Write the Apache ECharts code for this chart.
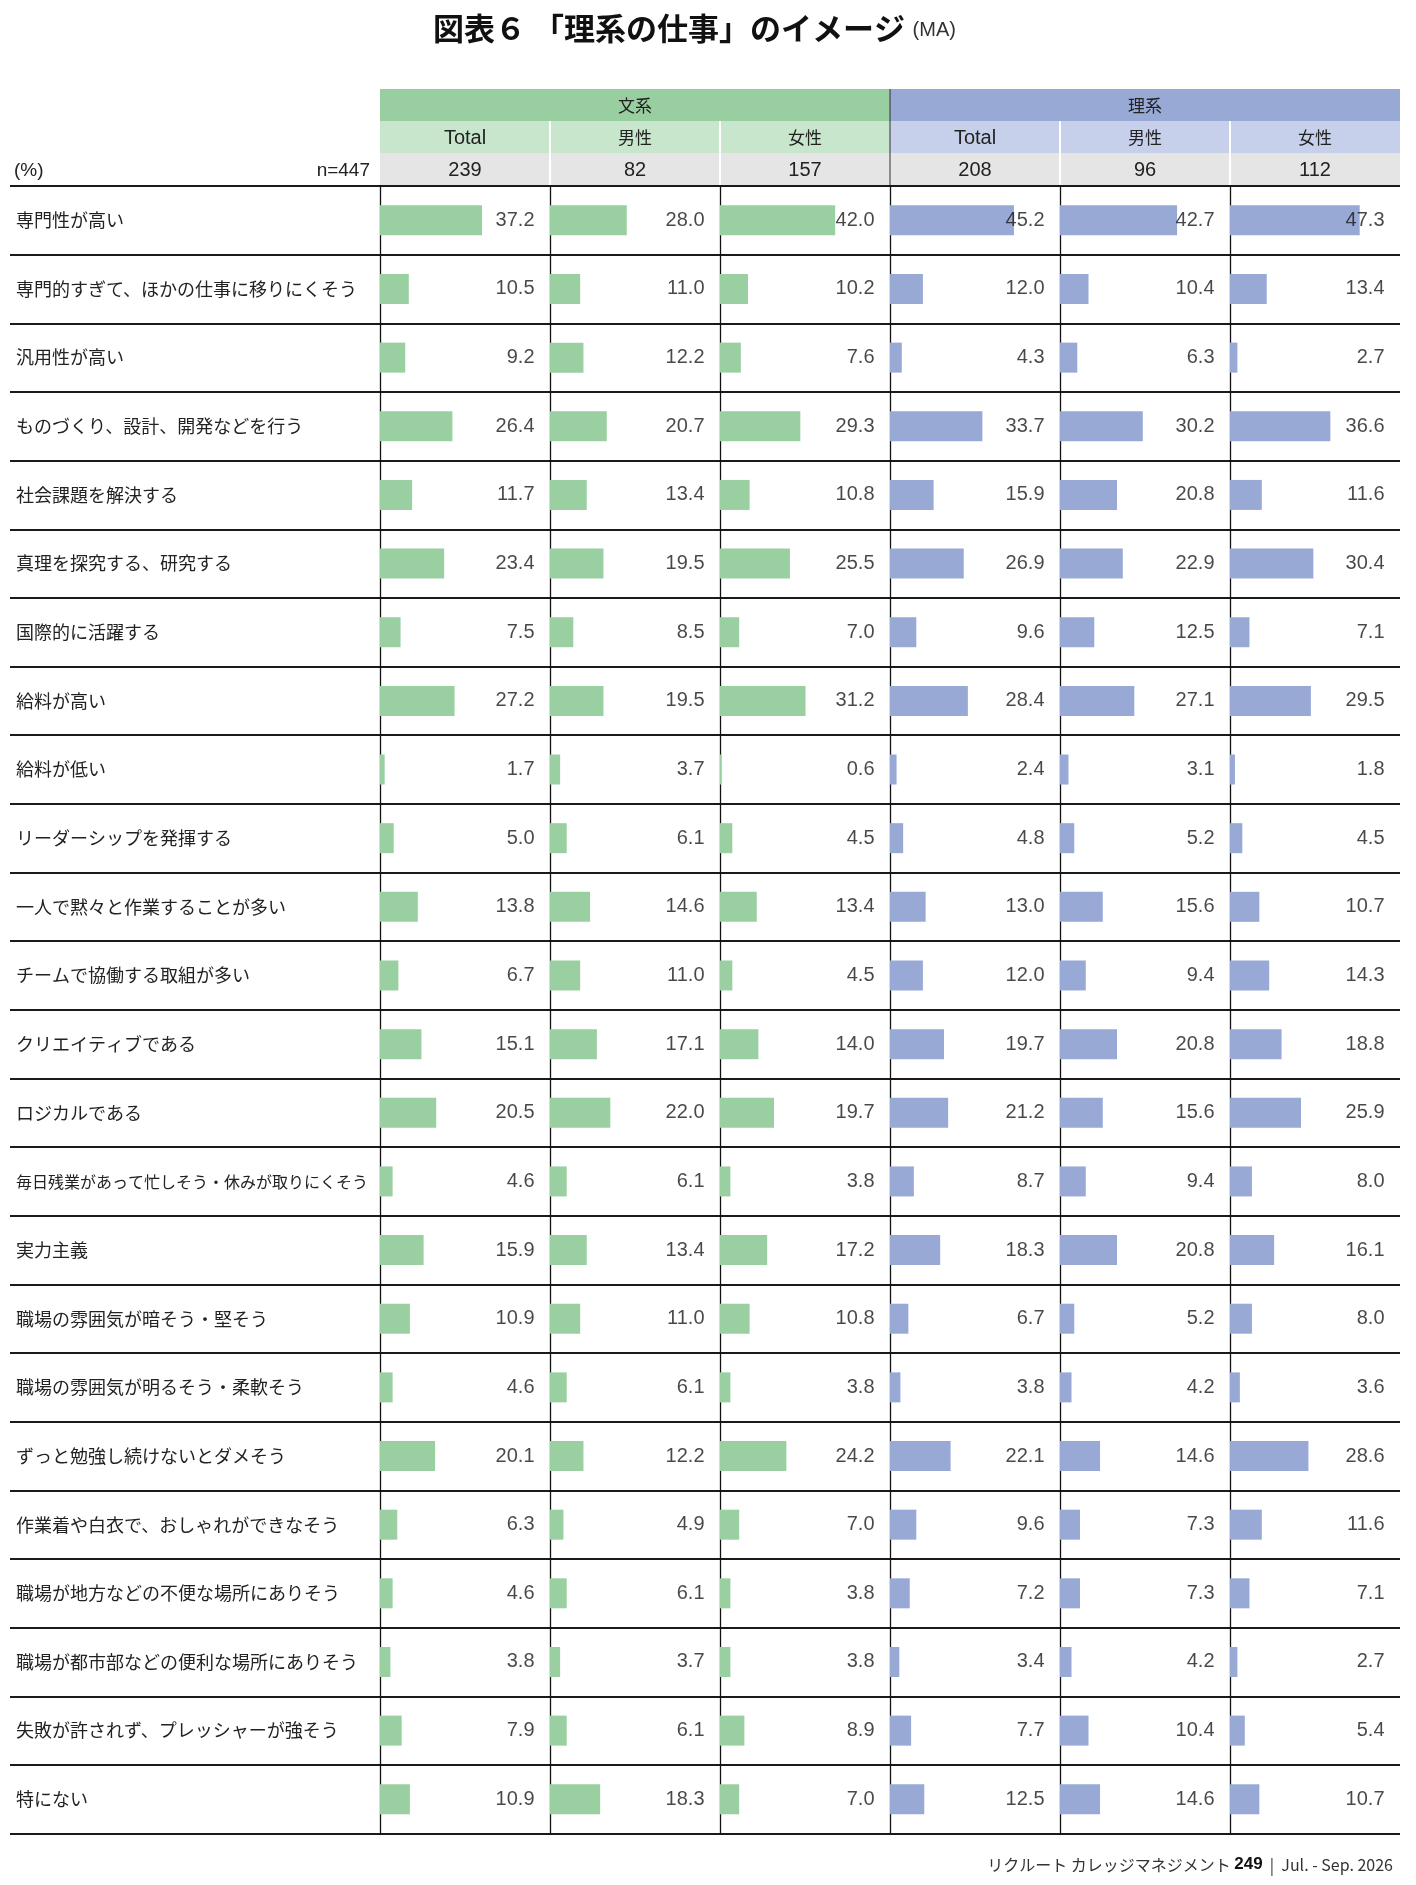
<!DOCTYPE html>
<html><head><meta charset="utf-8">
<script src="https://cdn.jsdelivr.net/npm/echarts@6/dist/echarts.min.js"></script>
<style>html,body{margin:0;padding:0;background:#fff}#c{width:1416px;height:1885px}</style>
</head><body><div id="c"></div>
<script>
const categories = [
  '専門性が高い',
  '専門的すぎて、ほかの仕事に移りにくそう',
  '汎用性が高い',
  'ものづくり、設計、開発などを行う',
  '社会課題を解決する',
  '真理を探究する、研究する',
  '国際的に活躍する',
  '給料が高い',
  '給料が低い',
  'リーダーシップを発揮する',
  '一人で黙々と作業することが多い',
  'チームで協働する取組が多い',
  'クリエイティブである',
  'ロジカルである',
  '毎日残業があって忙しそう・休みが取りにくそう',
  '実力主義',
  '職場の雰囲気が暗そう・堅そう',
  '職場の雰囲気が明るそう・柔軟そう',
  'ずっと勉強し続けないとダメそう',
  '作業着や白衣で、おしゃれができなそう',
  '職場が地方などの不便な場所にありそう',
  '職場が都市部などの便利な場所にありそう',
  '失敗が許されず、プレッシャーが強そう',
  '特にない'
];
const groups = ['文系', '理系'];
const subgroups = ['Total', '男性', '女性'];
const sampleN = [239, 82, 157, 208, 96, 112];
const totalN = 447;

const bunkeiTotal = [37.2,10.5,9.2,26.4,11.7,23.4,7.5,27.2,1.7,5.0,13.8,6.7,15.1,20.5,4.6,15.9,10.9,4.6,20.1,6.3,4.6,3.8,7.9,10.9];
const bunkeiMale  = [28.0,11.0,12.2,20.7,13.4,19.5,8.5,19.5,3.7,6.1,14.6,11.0,17.1,22.0,6.1,13.4,11.0,6.1,12.2,4.9,6.1,3.7,6.1,18.3];
const bunkeiFemale= [42.0,10.2,7.6,29.3,10.8,25.5,7.0,31.2,0.6,4.5,13.4,4.5,14.0,19.7,3.8,17.2,10.8,3.8,24.2,7.0,3.8,3.8,8.9,7.0];
const rikeiTotal  = [45.2,12.0,4.3,33.7,15.9,26.9,9.6,28.4,2.4,4.8,13.0,12.0,19.7,21.2,8.7,18.3,6.7,3.8,22.1,9.6,7.2,3.4,7.7,12.5];
const rikeiMale   = [42.7,10.4,6.3,30.2,20.8,22.9,12.5,27.1,3.1,5.2,15.6,9.4,20.8,15.6,9.4,20.8,5.2,4.2,14.6,7.3,7.3,4.2,10.4,14.6];
const rikeiFemale = [47.3,13.4,2.7,36.6,11.6,30.4,7.1,29.5,1.8,4.5,10.7,14.3,18.8,25.9,8.0,16.1,8.0,3.6,28.6,11.6,7.1,2.7,5.4,10.7];

const columns = [bunkeiTotal, bunkeiMale, bunkeiFemale, rikeiTotal, rikeiMale, rikeiFemale];

// layout
const L = 380, CW = 170, TOP = 186, ROWH = 68.65, H = ROWH * categories.length;
const XMAX = 62;
const GREEN = '#9ACFA1', BLUE = '#99A9D6';
const JP = '"Noto Sans CJK JP", "Noto Sans", sans-serif';
const NUM = '"Liberation Sans", Arial, sans-serif';

const grids = [{ left: 10, top: TOP, width: 1390, height: H, outerBoundsMode: 'none' }];
const xAxes = [{ type: 'value', gridIndex: 0, show: false, min: 0, max: 1 }];
const yAxes = [{
  type: 'category', gridIndex: 0, data: categories, inverse: true,
  axisLine: { show: false }, axisTick: { show: false },
  axisLabel: {
    show: true, inside: true, margin: 6, interval: 0, color: '#222', fontSize: 18, fontFamily: JP,
    formatter: v => v.length >= 22 ? '{s|' + v + '}' : v,
    rich: { s: { fontSize: 16, fontFamily: JP, color: '#222' } }
  },
  splitLine: { show: true, interval: 0, lineStyle: { color: '#1a1a1a', width: 2 } }
}];
const series = [];
columns.forEach((vals, i) => {
  const gi = i + 1;
  grids.push({ left: L + i * CW, top: TOP, width: CW, height: H, outerBoundsMode: 'none' });
  xAxes.push({ type: 'value', gridIndex: gi, min: 0, max: XMAX, show: false });
  yAxes.push({
    type: 'category', gridIndex: gi, data: categories, inverse: true,
    axisLine: { show: true, onZero: false, lineStyle: { color: '#111', width: 1.3 } },
    axisTick: { show: false }, axisLabel: { show: false }, splitLine: { show: false }
  });
  series.push({
    type: 'bar', xAxisIndex: gi, yAxisIndex: gi, data: vals, barWidth: 30,
    itemStyle: { color: i < 3 ? GREEN : BLUE }, silent: true, z: 2
  });
  series.push({
    type: 'scatter', xAxisIndex: gi, yAxisIndex: gi, silent: true, z: 3,
    symbolSize: 1, itemStyle: { color: 'rgba(0,0,0,0)' },
    data: vals.map((v, j) => [XMAX, categories[j], v]),
    label: {
      show: true, position: 'left', distance: 15, color: '#1a1a1a',
      fontSize: 20, fontFamily: NUM,
      formatter: p => p.value[2].toFixed(1)
    }
  });
});

// header graphics
const graphic = [];
const hdrTop = 89, r1 = 32, r2 = 32, r3 = 33;
groups.forEach((g, k) => {
  const x0 = L + k * 3 * CW;
  graphic.push({ type: 'rect', shape: { x: x0, y: hdrTop, width: 3 * CW, height: r1 }, style: { fill: k === 0 ? '#99CFA0' : '#99A9D6' }, silent: true });
  graphic.push({ type: 'rect', shape: { x: x0, y: hdrTop + r1, width: 3 * CW, height: r2 }, style: { fill: k === 0 ? '#C8E6CB' : '#C7D0EB' }, silent: true });
  graphic.push({ type: 'text', x: x0 + 1.5 * CW, y: hdrTop + r1 / 2 + 1, silent: true,
    style: { text: g, fill: '#222', fontSize: 17, fontFamily: JP, align: 'center', verticalAlign: 'middle' } });
});
graphic.push({ type: 'rect', shape: { x: L, y: hdrTop + r1 + r2, width: 6 * CW, height: r3 }, style: { fill: '#E5E5E5' }, silent: true });
for (let i = 0; i < 6; i++) {
  const cx = L + i * CW + CW / 2;
  graphic.push({ type: 'text', x: cx, y: hdrTop + r1 + r2 / 2 + 1, silent: true,
    style: { text: subgroups[i % 3], fill: '#222', fontSize: i % 3 === 0 ? 20 : 17, fontFamily: i % 3 === 0 ? NUM : JP, align: 'center', verticalAlign: 'middle' } });
  graphic.push({ type: 'text', x: cx, y: hdrTop + r1 + r2 + r3 / 2 + 1, silent: true,
    style: { text: String(sampleN[i]), fill: '#222', fontSize: 20, fontFamily: NUM, align: 'center', verticalAlign: 'middle' } });
  if (i % 3 !== 0) {
    graphic.push({ type: 'line', shape: { x1: L + i * CW, y1: hdrTop + r1, x2: L + i * CW, y2: TOP }, style: { stroke: '#fff', lineWidth: 2 }, silent: true });
  }
}
graphic.push({ type: 'line', shape: { x1: L + 3 * CW, y1: hdrTop, x2: L + 3 * CW, y2: TOP }, style: { stroke: '#333', lineWidth: 1 }, silent: true });
graphic.push({ type: 'text', x: 14, y: hdrTop + r1 + r2 + r3 / 2 + 1, silent: true,
  style: { text: '(%)', fill: '#222', fontSize: 19, fontFamily: NUM, align: 'left', verticalAlign: 'middle' } });
graphic.push({ type: 'text', x: 370, y: hdrTop + r1 + r2 + r3 / 2 + 1, silent: true,
  style: { text: 'n=' + totalN, fill: '#222', fontSize: 19, fontFamily: NUM, align: 'right', verticalAlign: 'middle' } });

const option = {
  backgroundColor: '#fff',
  animation: false,
  title: [
    {
      text: '{t|図表６ 「理系の仕事」のイメージ}{m| (MA)}',
      left: 428, top: 8,
      textStyle: {
        fontWeight: 'normal',
        rich: {
          t: { fontSize: 31, fontWeight: 'bold', fontFamily: JP, color: '#111' },
          m: { fontSize: 20, fontWeight: 'normal', fontFamily: NUM, color: '#333', padding: [4, 0, 0, 2] }
        }
      }
    },
    {
      text: '{a|リクルート カレッジマネジメント }{b|249}{a|  |  Jul. - Sep. 2026}',
      right: 18, top: 1851,
      textStyle: {
        fontWeight: 'normal',
        rich: {
          a: { fontSize: 16, fontWeight: 'normal', fontFamily: JP, color: '#333' },
          b: { fontSize: 17, fontWeight: 'bold', fontFamily: NUM, color: '#111' }
        }
      }
    }
  ],
  grid: grids, xAxis: xAxes, yAxis: yAxes, series, graphic
};
const chart = echarts.init(document.getElementById('c'), null, { renderer: 'canvas' });
chart.setOption(option);
</script></body></html>
